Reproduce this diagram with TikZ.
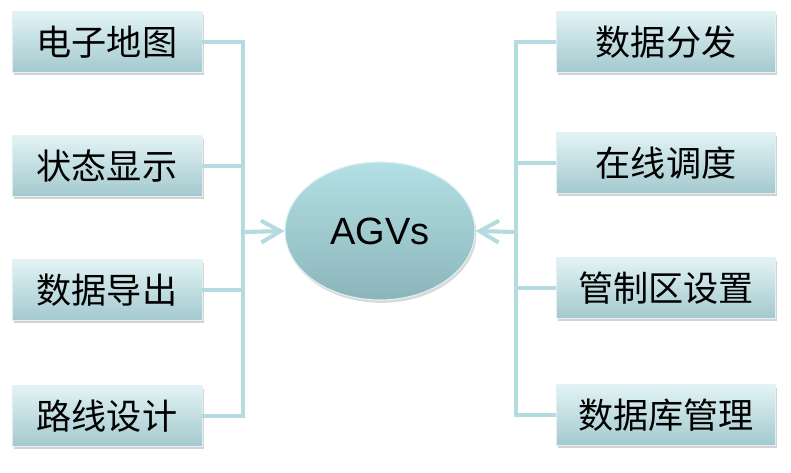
\documentclass[tikz,border=0pt]{standalone}
\usepackage{fontspec}
\setmainfont{Liberation Sans}
\newfontfamily\cjk{Noto Sans CJK SC}
\usetikzlibrary{arrows.meta,shadows,shapes.geometric}

\definecolor{linkblue}{HTML}{B4DCE0}
\definecolor{boxtop}{HTML}{E2F3F5}
\definecolor{boxbot}{HTML}{A3C9CE}
\definecolor{agvtop}{HTML}{B3E0E4}
\definecolor{agvbot}{HTML}{8BB5BA}

\tikzset{
    funcbox/.style={rectangle, draw=white!70!boxbot, line width=0.6pt,
        top color=boxtop, bottom color=boxbot, minimum height=1.5cm,
        inner sep=0pt, font=\cjk\fontsize{25}{30}\selectfont,
        drop shadow={shadow xshift=1.2pt, shadow yshift=-1.8pt, opacity=0.35}},
    link/.style={draw=linkblue, line width=2.9pt, line join=miter}
}

\begin{document}
\begin{tikzpicture}[x=0.025cm, y=-0.025cm, >={Straight Barb[length=0.48cm, width=0.55cm, line width=2.9pt]}]
        \useasboundingbox (0, 0) rectangle (791, 473);
        % 中心椭圆
        \node[ellipse, draw=white!55!agvtop, line width=0.8pt,
            top color=agvtop, bottom color=agvbot,
            minimum width=4.75cm, minimum height=3.45cm,
            font=\fontsize{27}{32}\selectfont,
            drop shadow={shadow xshift=1pt, shadow yshift=-2pt, opacity=0.3}] (agv) at (380, 231) {AGVs};
        % 左侧功能
        \node[funcbox, minimum width=4.75cm] (map) at (107, 42) {电子地图};
        \node[funcbox, minimum width=4.75cm] (state) at (107, 166) {状态显示};
        \node[funcbox, minimum width=4.75cm] (export) at (107, 290) {数据导出};
        \node[funcbox, minimum width=4.75cm] (route) at (107, 416) {路线设计};
        % 右侧功能
        \node[funcbox, minimum width=5.475cm] (dispatch) at (666, 42) {数据分发};
        \node[funcbox, minimum width=5.475cm] (online) at (666, 163) {在线调度};
        \node[funcbox, minimum width=5.475cm] (zone) at (666, 288) {管制区设置};
        \node[funcbox, minimum width=5.475cm] (db) at (666, 415) {数据库管理};
        % 汇合点
        \coordinate (lbus) at (243, 232);
        \coordinate (rbus) at (516, 232);
        \foreach \n in {map, state, export, route}
            \draw[link] (\n.east) -| (lbus);
        \foreach \n in {dispatch, online, zone, db}
            \draw[link] (\n.west) -| (rbus);
        \draw[link, ->, color=linkblue] (lbus) -- (agv.west);
        \draw[link, ->, color=linkblue] (rbus) -- (agv.east);
\end{tikzpicture}
\end{document}
